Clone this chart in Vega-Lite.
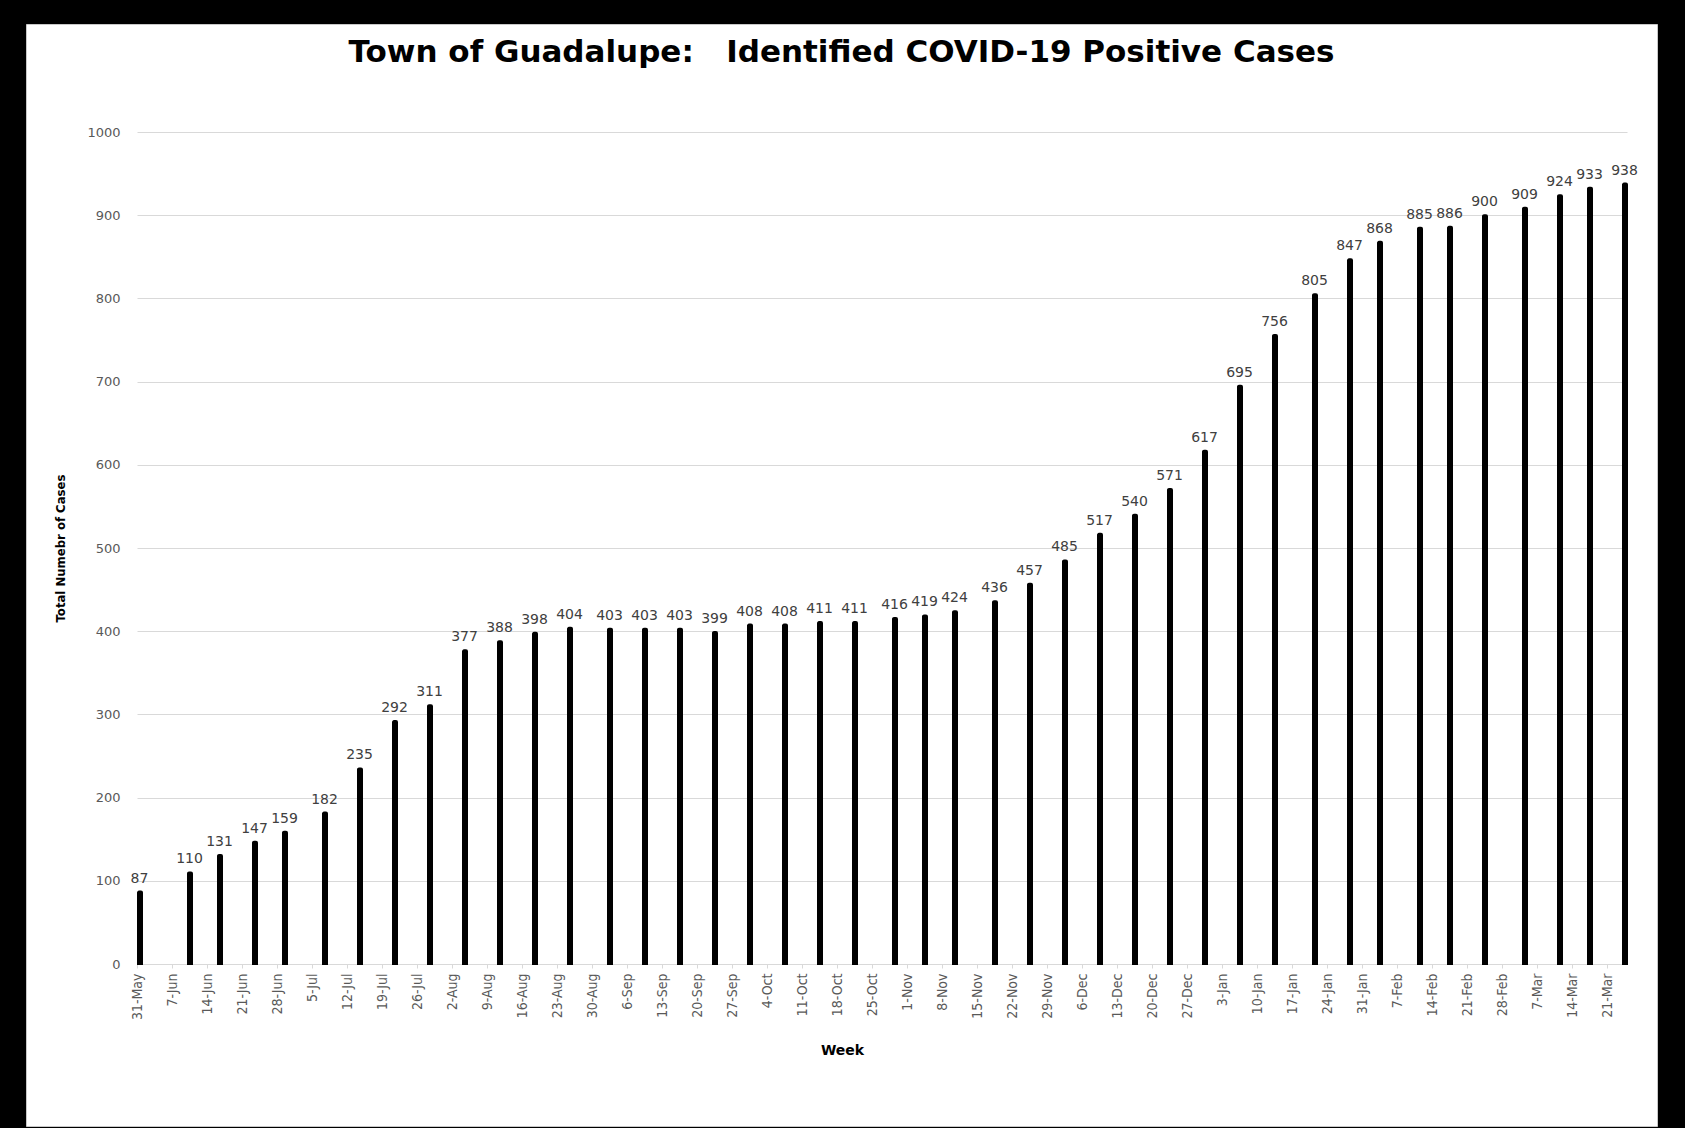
{
  "$schema": "https://vega.github.io/schema/vega-lite/v6.json",
  "autosize": {"type": "none"},
  "padding": {"left": 26, "top": 24, "right": 28, "bottom": 2},
  "width": 1631,
  "height": 1102,
  "background": "black",
  "title": {
    "text": "Town of Guadalupe:\u00a0\u00a0\u00a0Identified COVID-19 Positive Cases",
    "anchor": "middle",
    "frame": "group",
    "offset": -69,
    "baseline": "alphabetic",
    "font": "DejaVu Sans",
    "fontSize": 31,
    "fontWeight": "bold",
    "color": "#000000"
  },
  "config": {
    "view": {"fill": "white", "stroke": "#c8c8c8", "strokeWidth": 1}
  },
  "data": {
    "values": [
      {"date": "2020/05/31", "cases": 87},
      {"date": "2020/06/10", "cases": 110},
      {"date": "2020/06/16", "cases": 131},
      {"date": "2020/06/23", "cases": 147},
      {"date": "2020/06/29", "cases": 159},
      {"date": "2020/07/07", "cases": 182},
      {"date": "2020/07/14", "cases": 235},
      {"date": "2020/07/21", "cases": 292},
      {"date": "2020/07/28", "cases": 311},
      {"date": "2020/08/04", "cases": 377},
      {"date": "2020/08/11", "cases": 388},
      {"date": "2020/08/18", "cases": 398},
      {"date": "2020/08/25", "cases": 404},
      {"date": "2020/09/02", "cases": 403},
      {"date": "2020/09/09", "cases": 403},
      {"date": "2020/09/16", "cases": 403},
      {"date": "2020/09/23", "cases": 399},
      {"date": "2020/09/30", "cases": 408},
      {"date": "2020/10/07", "cases": 408},
      {"date": "2020/10/14", "cases": 411},
      {"date": "2020/10/21", "cases": 411},
      {"date": "2020/10/29", "cases": 416},
      {"date": "2020/11/04", "cases": 419},
      {"date": "2020/11/10", "cases": 424},
      {"date": "2020/11/18", "cases": 436},
      {"date": "2020/11/25", "cases": 457},
      {"date": "2020/12/02", "cases": 485},
      {"date": "2020/12/09", "cases": 517},
      {"date": "2020/12/16", "cases": 540},
      {"date": "2020/12/23", "cases": 571},
      {"date": "2020/12/30", "cases": 617},
      {"date": "2021/01/06", "cases": 695},
      {"date": "2021/01/13", "cases": 756},
      {"date": "2021/01/21", "cases": 805},
      {"date": "2021/01/28", "cases": 847},
      {"date": "2021/02/03", "cases": 868},
      {"date": "2021/02/11", "cases": 885},
      {"date": "2021/02/17", "cases": 886},
      {"date": "2021/02/24", "cases": 900},
      {"date": "2021/03/04", "cases": 909},
      {"date": "2021/03/11", "cases": 924},
      {"date": "2021/03/17", "cases": 933},
      {"date": "2021/03/24", "cases": 938}
    ]
  },
  "encoding": {
    "x": {
      "field": "date",
      "type": "temporal",
      "timeUnit": "yearmonthdate",
      "bandPosition": 0.5,
      "scale": {
        "domain": [
          {"year": 2020, "month": 5, "date": 31},
          {"year": 2021, "month": 3, "date": 25}
        ],
        "range": [111, 1601],
        "nice": false
      },
      "axis": {
        "orient": "bottom",
        "offset": -162,
        "tickCount": {"interval": "week", "step": 1},
        "format": "%-d-%b",
        "formatType": "time",
        "labelAngle": -90,
        "labelPadding": 5,
        "labelFont": "Liberation Sans Narrow, DejaVu Sans Condensed, sans-serif",
        "labelFontSize": 14,
        "labelColor": "#595959",
        "labelOverlap": false,
        "labelBound": false,
        "labelFlush": false,
        "grid": false,
        "domainColor": "#d9d9d9",
        "tickColor": "#d9d9d9",
        "tickSize": 4,
        "title": "Week",
        "titleFont": "DejaVu Sans",
        "titleFontSize": 14,
        "titleFontWeight": "bold",
        "titleColor": "#000000",
        "titleX": 816,
        "titleY": 86,
        "titleAlign": "center",
        "titleBaseline": "middle"
      }
    },
    "y": {
      "field": "cases",
      "type": "quantitative",
      "scale": {"domain": [0, 1000], "range": [940, 108], "nice": false, "zero": true},
      "axis": {
        "orient": "left",
        "offset": -111,
        "values": [0, 100, 200, 300, 400, 500, 600, 700, 800, 900, 1000],
        "format": "d",
        "domain": false,
        "ticks": false,
        "grid": true,
        "gridColor": "#d9d9d9",
        "gridWidth": 1,
        "labelPadding": 17,
        "labelFont": "DejaVu Sans",
        "labelFontSize": 13,
        "labelColor": "#595959",
        "title": "Total Numebr of Cases",
        "titleFont": "Liberation Sans Narrow, DejaVu Sans Condensed, sans-serif",
        "titleFontSize": 13,
        "titleFontWeight": "bold",
        "titleColor": "#000000",
        "titleX": -77,
        "titleBaseline": "middle",
        "titleAngle": 270
      }
    }
  },
  "layer": [
    {
      "mark": {"type": "bar", "color": "#000000", "stroke": "#000000", "strokeWidth": 2, "cornerRadiusTopLeft": 1, "cornerRadiusTopRight": 1}
    },
    {
      "mark": {"type": "text", "baseline": "alphabetic", "dy": -9, "font": "DejaVu Sans", "fontSize": 14, "color": "#404040"},
      "encoding": {"text": {"field": "cases", "type": "quantitative"}}
    }
  ]
}
